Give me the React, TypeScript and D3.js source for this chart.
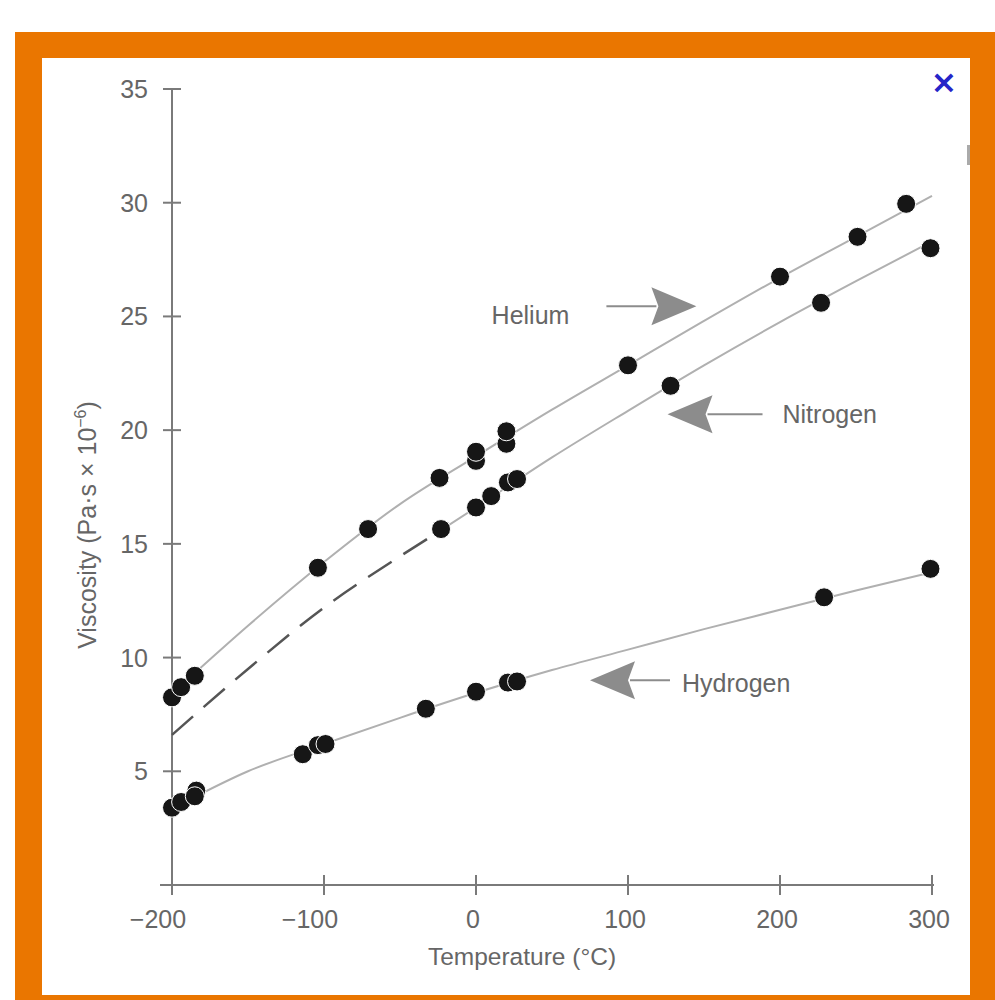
import React, { useEffect, useRef } from 'react';
import * as d3 from 'd3';

// measured points (temperature °C, viscosity Pa·s x 10^-6)
const heliumT = [-200, -194, -185, -104, -71, -24, 0, 0, 20, 20, 100, 200, 251, 283];
const heliumV = [8.25, 8.7, 9.2, 13.95, 15.65, 17.9, 18.65, 19.05, 19.4, 19.95, 22.85, 26.75, 28.5, 29.95];
const nitrogenT = [-23, 0, 10, 21, 27, 128, 227, 299];
const nitrogenV = [15.65, 16.6, 17.1, 17.7, 17.85, 21.95, 25.6, 28.0];
const hydrogenT = [-200, -194, -184, -185, -114, -104, -99, -33, 0, 21, 27, 229, 299];
const hydrogenV = [3.4, 3.65, 4.15, 3.9, 5.75, 6.15, 6.2, 7.75, 8.5, 8.9, 8.95, 12.65, 13.9];

// fitted curves
const heliumLineT = [-192, -150, -100, -50, 0, 50, 100, 150, 200, 250, 300];
const heliumLineV = [8.9, 11.4, 14.2, 16.75, 18.85, 20.9, 22.85, 24.8, 26.7, 28.5, 30.3];
const nitrogenDashT = [-200, -150, -100, -50, -23];
const nitrogenDashV = [6.6, 9.5, 12.2, 14.45, 15.6];
const nitrogenLineT = [-23, 0, 50, 100, 150, 200, 250, 300];
const nitrogenLineV = [15.6, 16.6, 18.8, 20.85, 22.85, 24.75, 26.55, 28.3];
const hydrogenLineT = [-190, -150, -100, -50, 0, 50, 100, 150, 200, 250, 300];
const hydrogenLineV = [3.7, 5.0, 6.2, 7.35, 8.45, 9.45, 10.35, 11.25, 12.1, 12.95, 13.75];

const xTicks = [-200, -100, 0, 100, 200, 300];
const yTicks = [5, 10, 15, 20, 25, 30, 35];

// arrow tip location (data units), direction, tail length, text gap and text shift
const labels = [
  { name: 'Helium', t: 145, v: 25.45, dir: 1, tail: 90, gap: 37, dy: 9 },
  { name: 'Nitrogen', t: 126, v: 20.7, dir: -1, tail: 95, gap: 20, dy: 0 },
  { name: 'Hydrogen', t: 75, v: 9.0, dir: -1, tail: 80, gap: 12, dy: 3 },
];

const FONT = "'Liberation Sans', Arial, sans-serif";

export default function App() {
  const ref = useRef<SVGSVGElement>(null);

  useEffect(() => {
    const svg = d3.select(ref.current);
    svg.selectAll('*').remove();

    // frame
    svg.append('rect').attr('x', 15).attr('y', 32).attr('width', 980).attr('height', 968).attr('fill', '#EA7600');
    svg.append('rect').attr('x', 42).attr('y', 58).attr('width', 928).attr('height', 937).attr('fill', '#fff');

    const x = d3.scaleLinear().domain([-200, 300]).range([172, 932]);
    const y = d3.scaleLinear().domain([0, 35]).range([885, 89]);
    const g = svg.append('g');
    const textColor = '#666';

    // axes
    const axisColor = '#7a7a7a';
    g.append('line').attr('x1', x(-200)).attr('x2', x(-200)).attr('y1', y(35)).attr('y2', y(0))
      .attr('stroke', axisColor).attr('stroke-width', 2);
    g.append('line').attr('x1', x(-200) - 12).attr('x2', x(300) + 2).attr('y1', y(0)).attr('y2', y(0))
      .attr('stroke', axisColor).attr('stroke-width', 2);

    g.selectAll('.ytick').data(yTicks).enter().append('line')
      .attr('x1', x(-200) - 9).attr('x2', x(-200) + 9)
      .attr('y1', (d) => y(d)).attr('y2', (d) => y(d))
      .attr('stroke', axisColor).attr('stroke-width', 2);
    g.selectAll('.ylab').data(yTicks).enter().append('text')
      .attr('x', 148).attr('y', (d) => y(d)).attr('dy', '0.36em')
      .attr('text-anchor', 'end').attr('fill', textColor)
      .style('font', `25px ${FONT}`).text((d) => d);

    g.selectAll('.xtick').data(xTicks).enter().append('line')
      .attr('x1', (d) => x(d)).attr('x2', (d) => x(d))
      .attr('y1', y(0) - 10).attr('y2', y(0) + 10)
      .attr('stroke', axisColor).attr('stroke-width', 2);
    g.selectAll('.xlab').data(xTicks).enter().append('text')
      .attr('x', (d) => x(d) - (d < 0 ? 14 : 3)).attr('y', 928)
      .attr('text-anchor', 'middle').attr('fill', textColor)
      .style('font', `25px ${FONT}`).text((d) => (d < 0 ? '\u2212' + Math.abs(d) : d));

    g.append('text').attr('x', 522).attr('y', 965).attr('text-anchor', 'middle').attr('fill', textColor)
      .style('font', `24.5px ${FONT}`).text('Temperature (\u00B0C)');

    const yl = g.append('text').attr('transform', 'translate(96,525) rotate(-90)')
      .attr('text-anchor', 'middle').attr('fill', textColor).style('font', `25px ${FONT}`);
    yl.append('tspan').text('Viscosity (Pa\u00B7s \u00D7 10');
    yl.append('tspan').attr('dy', -10).style('font-size', '16px').text('\u22126');
    yl.append('tspan').attr('dy', 10).text(')');

    // curves
    const line = d3.line<[number, number]>().x((d) => x(d[0])).y((d) => y(d[1])).curve(d3.curveMonotoneX);
    const zip = (a: number[], b: number[]) => a.map((t, i) => [t, b[i]] as [number, number]);
    const lineColor = '#b0b0b0';
    g.append('path').attr('d', line(zip(heliumLineT, heliumLineV))).attr('fill', 'none').attr('stroke', lineColor).attr('stroke-width', 2);
    g.append('path').attr('d', line(zip(nitrogenLineT, nitrogenLineV))).attr('fill', 'none').attr('stroke', lineColor).attr('stroke-width', 2);
    g.append('path').attr('d', line(zip(hydrogenLineT, hydrogenLineV))).attr('fill', 'none').attr('stroke', lineColor).attr('stroke-width', 2);
    g.append('path').attr('d', line(zip(nitrogenDashT, nitrogenDashV))).attr('fill', 'none')
      .attr('stroke', '#555').attr('stroke-width', 2.5).attr('stroke-dasharray', '28,14');

    // dots
    const dots = zip(heliumT, heliumV).concat(zip(nitrogenT, nitrogenV), zip(hydrogenT, hydrogenV));
    g.selectAll('.dot').data(dots).enter().append('circle')
      .attr('cx', (d) => x(d[0])).attr('cy', (d) => y(d[1])).attr('r', 9.5)
      .attr('fill', '#161616').attr('stroke', '#fff').attr('stroke-width', 1);

    // labels with arrows
    const arrowColor = '#8c8c8c';
    labels.forEach((l) => {
      const cx = x(l.t);
      const cy = y(l.v);
      const s = l.dir;
      g.append('path')
        .attr('d', `M${cx},${cy}L${cx - s * 45},${cy - 19}L${cx - s * 38},${cy}L${cx - s * 45},${cy + 19}Z`)
        .attr('fill', arrowColor);
      g.append('line').attr('x1', cx - s * 40).attr('x2', cx - s * l.tail).attr('y1', cy).attr('y2', cy)
        .attr('stroke', arrowColor).attr('stroke-width', 2);
      g.append('text').attr('x', cx - s * (l.tail + l.gap)).attr('y', cy + l.dy).attr('dy', '0.36em')
        .attr('text-anchor', s > 0 ? 'end' : 'start')
        .attr('fill', textColor).style('font', `25px ${FONT}`).text(l.name);
    });

    // close mark
    svg.append('text').attr('x', 944).attr('y', 82).attr('dy', '0.35em').attr('text-anchor', 'middle')
      .attr('fill', '#2525c8').style('font', `bold 32px 'DejaVu Sans', sans-serif`).text('\u00D7');
    svg.append('rect').attr('x', 967).attr('y', 145).attr('width', 3).attr('height', 20).attr('fill', '#aaa');
  }, []);

  return (
    <svg ref={ref} width={995} height={1000} style={{ position: 'absolute', left: 0, top: 0 }} />
  );
}
